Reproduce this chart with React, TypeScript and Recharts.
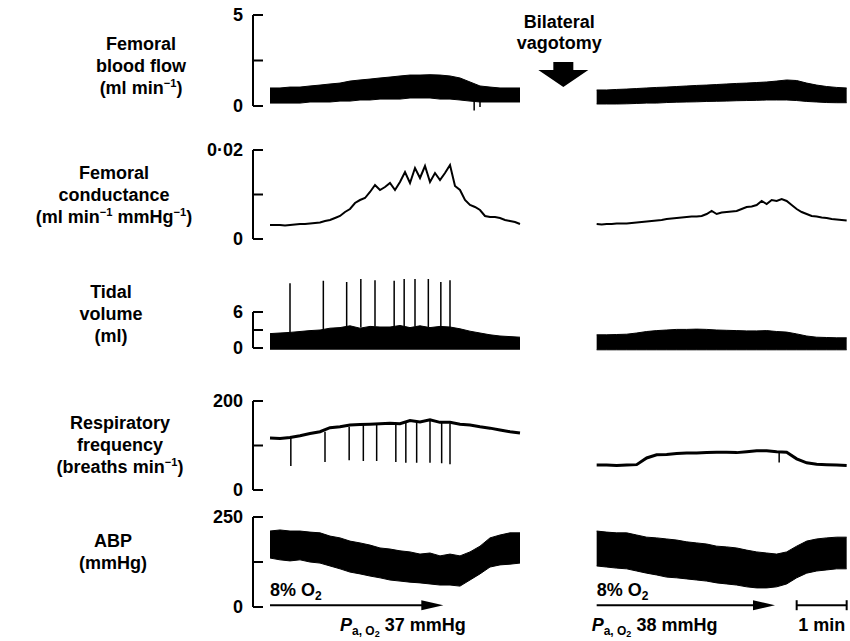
import React from "react";
import { ComposedChart, Area, Line, XAxis, YAxis, ReferenceLine } from "recharts";

const FONT = '"Liberation Sans", Arial, Helvetica, sans-serif';
const W = 850;
const H = 641;
const AXIS_W = 253;
// time in seconds from the start of the first hypoxic run
const X_DOMAIN: [number, number] = [-20.4, 696];

const COARSE = 12;
const FINE = 6;
const LEFT_T0 = 0;
const RIGHT_T0 = 392;

// femoral blood flow (ml/min), envelope of the pulsatile trace
const flowLeftHigh = [0.99, 0.99, 1.04, 1.04, 1.1, 1.15, 1.21, 1.26, 1.37, 1.43, 1.48, 1.54, 1.59, 1.65, 1.7, 1.7, 1.72, 1.7, 1.65, 1.54, 1.32, 1.1, 1.04, 0.99, 0.99, 0.99];
const flowLeftLow = [0.16, 0.16, 0.16, 0.16, 0.22, 0.22, 0.22, 0.27, 0.27, 0.33, 0.33, 0.38, 0.38, 0.38, 0.44, 0.44, 0.44, 0.38, 0.38, 0.33, 0.27, 0.22, 0.22, 0.22, 0.22, 0.22];
const flowRightHigh = [0.88, 0.88, 0.91, 0.93, 0.96, 0.99, 1.02, 1.04, 1.07, 1.1, 1.13, 1.15, 1.18, 1.21, 1.24, 1.26, 1.29, 1.32, 1.37, 1.43, 1.4, 1.26, 1.15, 1.07, 1.02, 0.99];
const flowRightLow = [0.11, 0.11, 0.11, 0.12, 0.14, 0.16, 0.16, 0.19, 0.21, 0.22, 0.23, 0.25, 0.26, 0.27, 0.29, 0.3, 0.31, 0.33, 0.33, 0.33, 0.3, 0.25, 0.22, 0.19, 0.18, 0.18];
const flowDipT = [245, 252];
const flowDipBase = [0.4, 0.4];
const flowDipTip = [-0.25, -0.05];

// femoral conductance (ml/min/mmHg)
const condLeft = [0.00315, 0.00315, 0.00315, 0.00303, 0.00315, 0.00326, 0.00337, 0.00337, 0.00348, 0.0036, 0.00371, 0.00404, 0.00427, 0.00472, 0.00517, 0.00607, 0.00674, 0.00809, 0.00876, 0.00921, 0.01056, 0.01213, 0.01101, 0.01168, 0.01258, 0.01101, 0.01281, 0.01505, 0.01258, 0.01595, 0.01371, 0.0164, 0.01281, 0.01483, 0.01326, 0.01483, 0.01663, 0.01191, 0.01101, 0.00876, 0.00764, 0.00719, 0.00652, 0.00517, 0.00494, 0.00494, 0.00472, 0.00427, 0.00404, 0.00382, 0.00337];
const condRight = [0.00337, 0.00326, 0.00337, 0.00337, 0.00348, 0.00348, 0.00348, 0.0036, 0.00371, 0.00382, 0.00393, 0.00404, 0.00416, 0.00427, 0.00449, 0.00461, 0.00472, 0.00483, 0.00494, 0.00506, 0.00506, 0.00517, 0.00562, 0.00629, 0.00562, 0.00595, 0.00607, 0.00618, 0.00629, 0.00674, 0.00719, 0.0073, 0.00764, 0.00854, 0.00786, 0.00876, 0.00854, 0.00899, 0.00854, 0.00764, 0.00674, 0.00607, 0.00562, 0.00517, 0.00506, 0.00483, 0.00472, 0.00449, 0.00438, 0.00427, 0.00416];

// tidal volume (ml)
const tidalLeftHigh = [2.4, 2.5, 2.6, 2.75, 2.9, 3.0, 3.3, 3.4, 3.7, 3.3, 3.6, 3.5, 3.5, 3.75, 3.4, 3.7, 3.4, 3.6, 3.5, 3.2, 2.8, 2.5, 2.2, 2.0, 1.9, 1.8];
const tidalLeftLow = [-0.2, -0.2, -0.2, -0.2, -0.2, -0.2, -0.2, -0.2, -0.2, -0.2, -0.2, -0.2, -0.2, -0.2, -0.2, -0.2, -0.2, -0.2, -0.2, -0.2, -0.2, -0.2, -0.2, -0.2, -0.2, -0.2];
const tidalRightHigh = [2.2, 2.2, 2.25, 2.3, 2.5, 2.75, 2.9, 3.0, 3.1, 3.1, 3.15, 3.1, 3.0, 2.95, 2.9, 2.85, 2.85, 2.9, 2.75, 2.65, 2.35, 2.0, 1.8, 1.75, 1.7, 1.7];
const tidalRightLow = [-0.3, -0.3, -0.3, -0.3, -0.3, -0.3, -0.3, -0.3, -0.3, -0.3, -0.3, -0.3, -0.3, -0.3, -0.3, -0.3, -0.3, -0.3, -0.3, -0.3, -0.3, -0.3, -0.3, -0.3, -0.3, -0.3];
const sighT = [24, 64, 92, 109, 126, 149, 161, 174, 190, 205, 216];
const sighBase = [2.5, 3.0, 3.5, 3.4, 3.6, 3.5, 3.6, 3.6, 3.5, 3.5, 3.3];
const sighTip = [10.8, 11.2, 11.0, 11.5, 11.3, 11.2, 11.5, 11.5, 11.5, 11.0, 11.3];

// respiratory frequency (breaths/min)
const respLeft = [117, 116, 118, 122, 127, 131, 140, 142, 146, 147, 148, 149, 150, 149, 156, 153, 158, 152, 152, 148, 146, 142, 139, 135, 131, 128];
const respRight = [56, 56, 55, 56, 57, 72, 79, 80, 82, 83, 83, 84, 85, 85, 84, 86, 88, 88, 86, 85, 70, 61, 58, 57, 56, 55];
const respDipT = [25, 66, 95, 112, 128, 151, 163, 176, 192, 206, 216, 611];
const respDipBase = [118, 131, 142, 146, 148, 149, 152, 155, 156, 152, 150, 84];
const respDipTip = [54, 63, 67, 65, 65, 63, 61, 61, 61, 60, 58, 62];

// arterial blood pressure (mmHg), envelope
const abpLeftHigh = [211, 214, 211, 211, 208, 206, 197, 192, 183, 178, 172, 164, 161, 156, 153, 147, 150, 142, 147, 142, 153, 169, 192, 200, 206, 206];
const abpLeftLow = [136, 131, 128, 131, 125, 122, 114, 106, 97, 92, 86, 81, 75, 72, 69, 67, 64, 61, 61, 58, 75, 92, 111, 117, 119, 122];
const abpRightHigh = [211, 208, 206, 206, 200, 194, 192, 189, 186, 181, 178, 175, 169, 167, 164, 158, 153, 150, 147, 153, 169, 183, 189, 192, 194, 194];
const abpRightLow = [114, 111, 108, 106, 100, 94, 89, 83, 81, 78, 75, 72, 67, 64, 61, 56, 53, 53, 56, 64, 81, 94, 100, 103, 106, 106];

// events
const vagotomyT = 352;
const o2Start = [0, 392];
const o2End = [208, 606];
const paO2 = [37, 38];
const minuteBar = [632, 692];

const flowTicks = [0, 2.5, 5];
const flowTickLabels = ["0", "", "5"];
const condTicks = [0, 0.01, 0.02];
const condTickLabels = ["0", "", "0\u00b702"];
const tidalTicks = [0, 3, 6];
const tidalTickLabels = ["0", "", "6"];
const respTicks = [0, 100, 200];
const respTickLabels = ["0", "", "200"];
const abpTicks = [0, 125, 250];
const abpTickLabels = ["0", "", "250"];

const line = (t0: number, step: number, v: number[]) => v.map((y, i) => ({ t: t0 + i * step, v: y }));
const band = (t0: number, step: number, lo: number[], hi: number[]) =>
  lo.map((l, i) => ({ t: t0 + i * step, r: [l, hi[i]] }));
const spikes = (ts: number[], base: number[], tip: number[]) =>
  ts.flatMap((t, i) => [
    { t, v: base[i] },
    { t, v: tip[i] },
    { t, v: null },
  ]);

const txt = { fontFamily: FONT, fontSize: 18, fontWeight: 700, fill: "#000" };

function yAxis(domain: [number, number], ticks: number[], labels: string[]) {
  return (
    <YAxis
      width={AXIS_W}
      type="number"
      domain={domain}
      ticks={ticks}
      interval={0}
      tickFormatter={(_v: number, i: number) => labels[i]}
      axisLine={false}
      tickSize={-10}
      tickMargin={20}
      tickLine={{ stroke: "#000", strokeWidth: 2 }}
      tick={txt}
    />
  );
}

const m = (topPx: number, bottomPx: number) => ({ top: topPx, bottom: H - bottomPx, left: 0, right: 0 });

const Sup = ({ children }: { children: React.ReactNode }) => (
  <span style={{ fontSize: "0.62em", verticalAlign: "0.6em", lineHeight: 0 }}>{children}</span>
);

function Label({ cx, top, lines }: { cx: number; top: number; lines: React.ReactNode[] }) {
  return (
    <div
      style={{
        position: "absolute",
        left: cx - 130,
        width: 260,
        top,
        textAlign: "center",
        fontFamily: FONT,
        fontSize: 18,
        fontWeight: 700,
        lineHeight: "22px",
        color: "#000",
      }}
    >
      {lines.map((l, i) => (
        <div key={i}>{l}</div>
      ))}
    </div>
  );
}

const layer: React.CSSProperties = { position: "absolute", left: 0, top: 0 };

export default function App() {
  const bracket = (top: number) => (
    <ReferenceLine
      segment={[
        { x: X_DOMAIN[0], y: 0 },
        { x: X_DOMAIN[0], y: top },
      ]}
      stroke="#000"
      strokeWidth={2}
      ifOverflow="visible"
    />
  );
  const xAxis = <XAxis type="number" dataKey="t" domain={X_DOMAIN} hide />;

  const areaProps = {
    dataKey: "r",
    type: "linear" as const,
    stroke: "#000",
    strokeWidth: 1,
    fill: "#000",
    fillOpacity: 1,
    dot: false,
    activeDot: false,
    isAnimationActive: false,
  };
  const lineProps = {
    dataKey: "v",
    type: "linear" as const,
    stroke: "#000",
    dot: false,
    activeDot: false,
    connectNulls: false,
    isAnimationActive: false,
  };

  return (
    <div style={{ position: "absolute", left: 0, top: 0, width: W, height: H, overflow: "hidden", background: "#fff" }}>
      <Label cx={141} top={33} lines={["Femoral", "blood flow", <>(ml min<Sup>−1</Sup>)</>]} />
      <Label cx={114} top={162} lines={["Femoral", "conductance", <>(ml min<Sup>−1</Sup> mmHg<Sup>−1</Sup>)</>]} />
      <Label cx={111} top={281} lines={["Tidal", "volume", "(ml)"]} />
      <Label cx={120} top={412} lines={["Respiratory", "frequency", <>(breaths min<Sup>−1</Sup>)</>]} />
      <Label cx={113} top={530} lines={["ABP", "(mmHg)"]} />

      {/* femoral blood flow */}
      <div style={layer}>
        <ComposedChart width={W} height={H} margin={m(15, 115.1)}>
          {xAxis}
          {yAxis([-0.5, 5], flowTicks, flowTickLabels)}
          {bracket(5)}
          <Area {...areaProps} data={band(LEFT_T0, COARSE, flowLeftLow, flowLeftHigh)} />
          <Area {...areaProps} data={band(RIGHT_T0, COARSE, flowRightLow, flowRightHigh)} />
          <Line {...lineProps} strokeWidth={1.5} data={spikes(flowDipT, flowDipBase, flowDipTip)} />
          <ReferenceLine
            segment={[
              { x: vagotomyT, y: 2.42 },
              { x: vagotomyT, y: 1.04 },
            ]}
            ifOverflow="visible"
            shape={(p: any) => {
              const { x1, y1, y2 } = p;
              return (
                <g>
                  <polygon
                    points={`${x1 - 10},${y1} ${x1 + 10},${y1} ${x1 + 10},${y1 + 8} ${x1 + 25},${y1 + 8} ${x1},${y2} ${x1 - 25},${y1 + 8} ${x1 - 10},${y1 + 8}`}
                    fill="#000"
                  />
                  <text x={x1 - 4} y={y1 - 34} textAnchor="middle" {...txt}>
                    Bilateral
                  </text>
                  <text x={x1 - 4} y={y1 - 13} textAnchor="middle" {...txt}>
                    vagotomy
                  </text>
                </g>
              );
            }}
          />
        </ComposedChart>
      </div>

      {/* femoral conductance */}
      <div style={layer}>
        <ComposedChart width={W} height={H} margin={m(150, 239)}>
          {xAxis}
          {yAxis([0, 0.02], condTicks, condTickLabels)}
          {bracket(0.02)}
          <Line {...lineProps} strokeWidth={2} data={line(LEFT_T0, FINE, condLeft)} />
          <Line {...lineProps} strokeWidth={2} data={line(RIGHT_T0, FINE, condRight)} />
        </ComposedChart>
      </div>

      {/* tidal volume */}
      <div style={layer}>
        <ComposedChart width={W} height={H} margin={m(276, 351)}>
          {xAxis}
          {yAxis([-0.5, 12], tidalTicks, tidalTickLabels)}
          {bracket(6)}
          <Area {...areaProps} data={band(LEFT_T0, COARSE, tidalLeftLow, tidalLeftHigh)} />
          <Area {...areaProps} data={band(RIGHT_T0, COARSE, tidalRightLow, tidalRightHigh)} />
          <Line {...lineProps} strokeWidth={1.5} data={spikes(sighT, sighBase, sighTip)} />
        </ComposedChart>
      </div>

      {/* respiratory frequency */}
      <div style={layer}>
        <ComposedChart width={W} height={H} margin={m(401, 490)}>
          {xAxis}
          {yAxis([0, 200], respTicks, respTickLabels)}
          {bracket(200)}
          <Line {...lineProps} strokeWidth={3} data={line(LEFT_T0, COARSE, respLeft)} />
          <Line {...lineProps} strokeWidth={3} data={line(RIGHT_T0, COARSE, respRight)} />
          <Line {...lineProps} strokeWidth={1.5} data={spikes(respDipT, respDipBase, respDipTip)} />
        </ComposedChart>
      </div>

      {/* arterial blood pressure + annotations */}
      <div style={layer}>
        <ComposedChart width={W} height={H} margin={m(517, 607)}>
          {xAxis}
          {yAxis([0, 250], abpTicks, abpTickLabels)}
          {bracket(250)}
          <Area {...areaProps} data={band(LEFT_T0, COARSE, abpLeftLow, abpLeftHigh)} />
          <Area {...areaProps} data={band(RIGHT_T0, COARSE, abpRightLow, abpRightHigh)} />
          {o2Start.map((s, i) => (
            <ReferenceLine
              key={i}
              segment={[
                { x: s, y: 5 },
                { x: o2End[i], y: 5 },
              ]}
              ifOverflow="visible"
              shape={(p: any) => {
                const { x1, x2, y1 } = p;
                const dx = i === 0 ? 70 : -5;
                return (
                  <g>
                    <line x1={x1} y1={y1} x2={x2 - 12} y2={y1} stroke="#000" strokeWidth={2} />
                    <polygon points={`${x2},${y1} ${x2 - 22},${y1 - 5} ${x2 - 22},${y1 + 5}`} fill="#000" />
                    <text x={x1} y={y1 - 9} {...txt}>
                      8% O
                      <tspan fontSize={12} dy={4}>
                        2
                      </tspan>
                    </text>
                    <text x={x1 + dx} y={y1 + 26} {...txt}>
                      <tspan fontStyle="italic">P</tspan>
                      <tspan fontSize={12} dy={4}>
                        a, O
                      </tspan>
                      <tspan fontSize={9} dy={2}>
                        2
                      </tspan>
                      <tspan dy={-6}> {paO2[i]} mmHg</tspan>
                    </text>
                  </g>
                );
              }}
            />
          ))}
          <ReferenceLine
            segment={[
              { x: minuteBar[0], y: 5 },
              { x: minuteBar[1], y: 5 },
            ]}
            ifOverflow="visible"
            shape={(p: any) => {
              const { x1, x2, y1 } = p;
              return (
                <g>
                  <line x1={x1} y1={y1} x2={x2} y2={y1} stroke="#000" strokeWidth={2} />
                  <line x1={x1} y1={y1 - 5} x2={x1} y2={y1 + 5} stroke="#000" strokeWidth={2} />
                  <line x1={x2} y1={y1 - 5} x2={x2} y2={y1 + 5} stroke="#000" strokeWidth={2} />
                  <text x={(x1 + x2) / 2} y={y1 + 26} textAnchor="middle" {...txt}>
                    1 min
                  </text>
                </g>
              );
            }}
          />
        </ComposedChart>
      </div>
    </div>
  );
}
